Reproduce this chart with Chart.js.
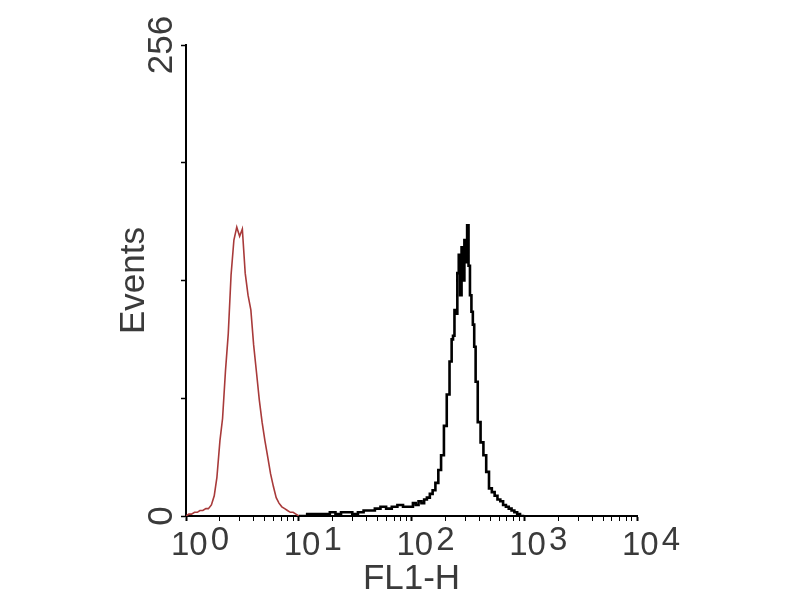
<!DOCTYPE html>
<html>
<head>
<meta charset="utf-8">
<script src="https://cdn.jsdelivr.net/npm/chart.js@4/dist/chart.umd.min.js"></script>
<style>
  html, body { margin: 0; padding: 0; background: #ffffff; }
  #wrap { width: 800px; height: 600px; }
</style>
</head>
<body>
<div id="wrap"><canvas id="c" width="800" height="600"></canvas></div>
<script>
// ---- data ----
const redFL1 = [1.00,1.06,1.12,1.19,1.26,1.33,1.41,1.50,1.58,1.68,1.78,1.88,2.00,2.11,2.24,2.37,2.51,2.66,2.82,2.99,3.16,3.35,3.55,3.76,3.98,4.22,4.47,4.73,5.01,5.31,5.62,5.96,6.31,6.68,7.08,7.50,7.94,8.41,8.91,9.44,10.0];
const redEvents = [0,1,1,2,2,3,3,4,4,6,11,21,41,53,79,99,131,150,157,152,156,132,120,112,93,78,63,51,41,32,23,16,10,7,5,4,3,2,2,1,0];

const blackFL1 = [10.0,11.2,12.6,14.1,15.8,17.8,20.0,22.4,25.1,28.2,31.6,35.5,39.8,44.7,50.1,56.2,63.1,70.8,79.4,89.1,100,106,112,119,126,133,141,150,158,168,178,188,200,211,224,230,237,244,251,259,266,274,282,290,299,307,316,325,335,345,355,365,376,398,422,447,473,501,531,562,596,631,668,708,750,794,841,891,944,1000];
const blackEvents = [0,0,1,1,1,1,2,1,2,2,1,2,3,3,4,5,4,5,6,5,5,7,6,8,7,9,10,12,14,18,25,33,49,66,84,96,98,112,110,132,142,120,146,128,150,138,158,136,120,111,104,92,73,51,40,33,24,15,13,11,9,8,6,5,4,3,2,1,0,0];

const xTickValues = [1, 10, 100, 1000, 10000];
const xTickBase = '10';
const xTickExponents = ['0', '1', '2', '3', '4'];
const yTickValues = [0, 256];
const yTickLabels = ['0', '256'];
const xTitle = 'FL1-H';
const yTitle = 'Events';

// ---- chart ----
const FONT = '"Liberation Sans", Arial, sans-serif';
const toPoints = (xs, ys) => xs.map((x, i) => ({ x: x, y: ys[i] }));

const labelPlugin = {
  id: 'fcsLabels',
  afterDraw(chart) {
    const ctx = chart.ctx;
    const xs = chart.scales.x, ys = chart.scales.y;
    ctx.save();
    ctx.fillStyle = '#3a3a3a';
    ctx.font = '33px ' + FONT;
    ctx.textAlign = 'left';
    ctx.textBaseline = 'alphabetic';
    xTickValues.forEach((v, i) => {
      const px = xs.getPixelForValue(v);
      const bx = px - 15;
      ctx.fillText(xTickBase, bx, 555);
      const w = ctx.measureText(xTickBase).width;
      ctx.fillText(xTickExponents[i], bx + w + 3, 550);
    });
    ctx.font = '35px ' + FONT;
    ctx.textAlign = 'center';
    yTickValues.forEach((v, i) => {
      const py = ys.getPixelForValue(v);
      ctx.save();
      ctx.translate(172, py);
      ctx.rotate(-Math.PI / 2);
      ctx.fillText(yTickLabels[i], 0, 0);
      ctx.restore();
    });
    ctx.restore();
  }
};

new Chart(document.getElementById('c'), {
  type: 'line',
  data: {
    datasets: [
      {
        label: 'control',
        data: toPoints(redFL1, redEvents),
        borderColor: '#a83a3a',
        borderWidth: 1.6,
        pointRadius: 0,
        stepped: false,
        tension: 0,
        fill: false
      },
      {
        label: 'stained',
        data: toPoints(blackFL1, blackEvents),
        borderColor: '#000000',
        borderWidth: 2.6,
        pointRadius: 0,
        stepped: 'middle',
        fill: false
      }
    ]
  },
  options: {
    responsive: false,
    animation: false,
    events: [],
    layout: { padding: { left: 0, top: 45, right: 163, bottom: 0 } },
    plugins: { legend: { display: false }, tooltip: { enabled: false } },
    scales: {
      x: {
        type: 'logarithmic',
        position: 'bottom',
        min: 1,
        max: 10000,
        afterBuildTicks(scale) {
          const t = [];
          for (let d = 1; d < 10000; d *= 10) {
            for (let k = 1; k < 10; k++) t.push({ value: k * d, major: k === 1 });
          }
          t.push({ value: 10000, major: true });
          scale.ticks = t;
        },
        afterFit(scale) { scale.height = 84; },
        ticks: { display: false, autoSkip: false },
        border: { display: true, color: '#000000', width: 2 },
        grid: {
          drawOnChartArea: false,
          drawTicks: true,
          tickLength: 5,
          tickColor: '#000000',
          tickWidth: (c) => (c.tick && c.tick.major ? 2 : 1)
        },
        title: {
          display: true,
          text: xTitle,
          color: '#3a3a3a',
          font: { family: FONT, size: 35, lineHeight: 1.2 },
          padding: { top: 0, bottom: 0 }
        }
      },
      y: {
        type: 'linear',
        min: 0,
        max: 256,
        afterBuildTicks(scale) {
          scale.ticks = [0, 64, 128, 192, 256].map(v => ({ value: v }));
        },
        afterFit(scale) { scale.width = 186; },
        ticks: { display: false },
        border: { display: true, color: '#000000', width: 2 },
        grid: {
          drawOnChartArea: false,
          drawTicks: true,
          tickLength: 5,
          tickColor: '#000000',
          tickWidth: 1.5
        },
        title: {
          display: true,
          text: yTitle,
          color: '#3a3a3a',
          font: { family: FONT, size: 35, lineHeight: 1.2 },
          padding: { top: 113, bottom: 0 }
        }
      }
    }
  },
  plugins: [labelPlugin]
});
</script>
</body>
</html>
